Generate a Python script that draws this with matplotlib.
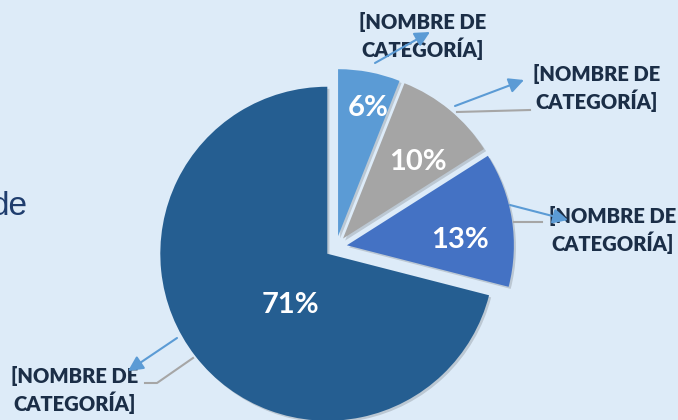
import matplotlib.pyplot as plt
from matplotlib.patheffects import SimplePatchShadow, Normal

# chart data
categories = ["[NOMBRE DE\nCATEGORÍA]"] * 4
values = [71, 13, 10, 6]
pct_labels = ["71%", "13%", "10%", "6%"]

W, H = 678, 420
bg = "#DDEBF8"
colors = ["#255E91", "#4472C4", "#A5A5A5", "#5B9BD5"]
text_dark = "#1B2E47"
arrow_blue = "#5B9BD5"
leader_gray = "#A6A6A6"


def Y(y):
    # picture coords (y down) -> axes coords (y up)
    return H - y


fig = plt.figure(figsize=(W / 100, H / 100), dpi=100)
fig.patch.set_facecolor(bg)
ax = fig.add_axes([0, 0, 1, 1])
ax.set_facecolor(bg)

# explode is in data units here (pixels)
wedges, _ = ax.pie(values, colors=colors, startangle=90, counterclock=True,
                   explode=[11] * 4, center=(336, Y(247)), radius=167,
                   wedgeprops=dict(linewidth=0))
for w in wedges:
    w.set_path_effects([SimplePatchShadow(offset=(1.5, -1.5), shadow_rgbFace="k", alpha=0.15),
                        Normal()])

ax.set_xlim(0, W)
ax.set_ylim(0, H)
ax.axis("off")

# percentage labels inside slices
pct_pos = [(290, 305), (460, 240), (418, 162), (368, 108)]
for lab, (x, y) in zip(pct_labels, pct_pos):
    ax.text(x, Y(y), lab, color="white", fontsize=21, fontweight="bold",
            family="Lato", ha="center", va="center")

# category labels
cat_pos = [(75, 390), (613, 230), (597, 88), (423, 36)]
for lab, (x, y) in zip(categories, cat_pos):
    ax.text(x, Y(y), lab, color=text_dark, fontsize=14.5, fontweight="heavy",
            family="Lato", ha="center", va="center", linespacing=1.3)

# gray leader lines
ax.plot([193, 157, 145], [Y(358), Y(383), Y(383)], color=leader_gray, lw=1.5)
ax.plot([514, 542], [Y(222), Y(222)], color=leader_gray, lw=1.5)
ax.plot([457, 530], [Y(112), Y(110)], color=leader_gray, lw=1.5)

# blue arrows
arrows = [((177, 338), (128, 371)), ((510, 205), (568, 220)),
          ((455, 106), (524, 80)), ((375, 63), (430, 32))]
for (x0, y0), (x1, y1) in arrows:
    ax.annotate("", xy=(x1, Y(y1)), xytext=(x0, Y(y0)),
                arrowprops=dict(arrowstyle="-|>,head_length=0.9,head_width=0.45",
                                color=arrow_blue, lw=1.5, shrinkA=0, shrinkB=0))

# cut-off title text at the left edge
ax.text(28, Y(215), "de", color="#1F3D6E", fontsize=24, family="Liberation Sans",
        ha="right", va="baseline")

fig.savefig("out.png", dpi=100, facecolor=bg)
